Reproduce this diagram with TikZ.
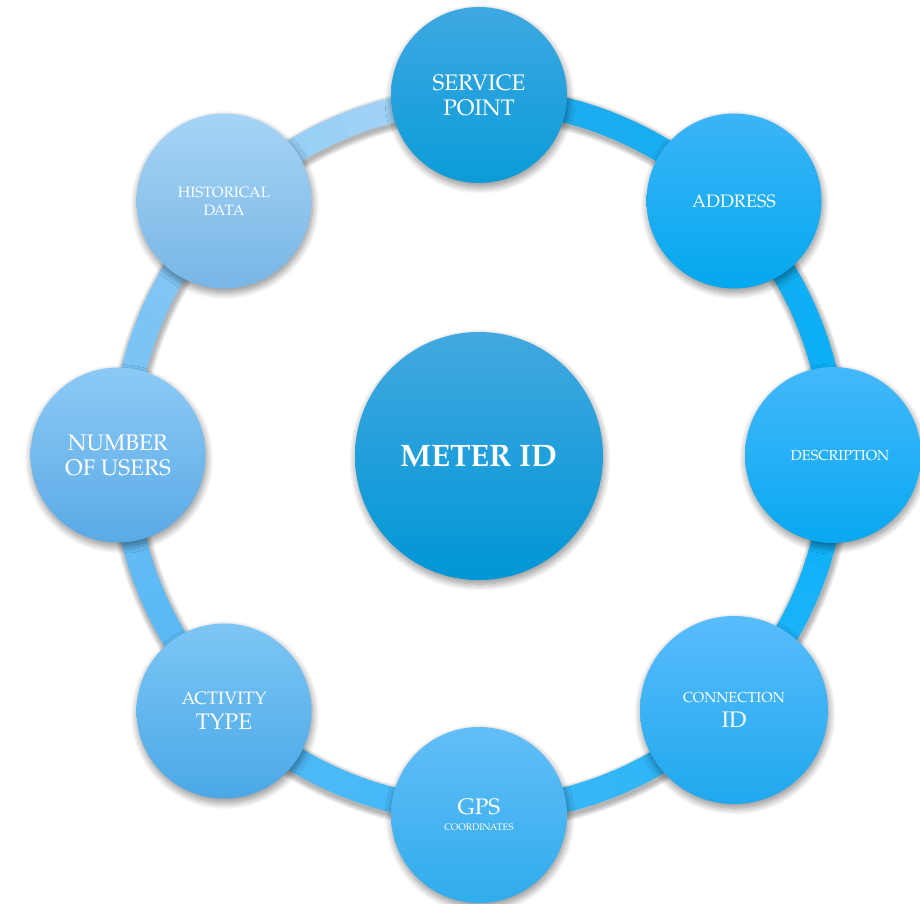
\documentclass[tikz,border=0pt]{standalone}
\usepackage{fontspec}
\setmainfont{TeX Gyre Pagella}
\usetikzlibrary{shadows.blur}
\definecolor{rA}{HTML}{A8D6F6}
\definecolor{rB}{HTML}{7CC4F5}
\definecolor{rC}{HTML}{5CBAF5}
\definecolor{rD}{HTML}{40B8F8}
\definecolor{rE}{HTML}{08B0F8}
\definecolor{rF}{HTML}{20ACEC}
\definecolor{spT}{HTML}{3EA8E2}\definecolor{spB}{HTML}{0A9CD8}
\definecolor{miT}{HTML}{42A8E0}\definecolor{miB}{HTML}{0096D6}
\definecolor{adT}{HTML}{3CB4F8}\definecolor{adB}{HTML}{04A8EE}
\definecolor{deT}{HTML}{44B8FC}\definecolor{deB}{HTML}{08A8F0}
\definecolor{coT}{HTML}{58BCFC}\definecolor{coB}{HTML}{20A8EE}
\definecolor{gpT}{HTML}{62BEF8}\definecolor{gpB}{HTML}{30ACEC}
\definecolor{acT}{HTML}{7CC6F5}\definecolor{acB}{HTML}{4AA8E6}
\definecolor{nuT}{HTML}{8CCAF5}\definecolor{nuB}{HTML}{5AAAE6}
\definecolor{hiT}{HTML}{A6D4F5}\definecolor{hiB}{HTML}{78B6E6}
\newcommand\ringseg[4]{%
  \foreach \i in {0,...,19} {%
    \pgfmathsetmacro\ang{#1+(#2-#1)*\i/20}%
    \pgfmathsetmacro\angb{\ang+(#2-#1)/20+0.4}%
    \pgfmathtruncatemacro\pc{100*\i/19}%
    \draw[ringline, draw={#4!\pc!#3}] (c) ++(\ang:355.5pt)
      arc[start angle=\ang, end angle=\angb, radius=355.5pt];
  }}
\begin{document}
\begin{tikzpicture}[x=1pt,y=-1pt,
  bubble/.style={circle, inner sep=0pt, text=white, align=center,
    blur shadow={shadow xshift=1pt, shadow yshift=-4pt, shadow blur radius=7pt,
      shadow blur steps=12, shadow opacity=45}},
  bigtxt/.style={font=\fontsize{22.5}{25}\selectfont},
  ringline/.style={line width=25pt, line cap=butt},
  ringshadow/.style={draw=black, opacity=0.055}
]
\useasboundingbox (0,0) rectangle (920,903);
\coordinate (c) at (479,455);
\coordinate (cs) at (480,458);
% ring shadow
\foreach \w in {26,28,30,32,34,36}
  \draw[ringshadow, line width=\w pt] (cs) circle (355.5pt);
% ring with gradient along its length
\ringseg{92}{160}{rA}{rB}
\ringseg{160}{205}{rB}{rC}
\ringseg{205}{270}{rC}{rD}
\ringseg{270}{360}{rD}{rE}
\ringseg{360}{452}{rE}{rF}

\node[bubble, minimum size=176pt, top color=spT, bottom color=spB, bigtxt] (sp) at (479,95) {SERVICE\\POINT};
\node[bubble, minimum size=175pt, top color=adT, bottom color=adB, font=\fontsize{18}{22}\selectfont] (ad) at (734,201) {ADDRESS};
\node[bubble, minimum size=176pt, top color=deT, bottom color=deB, font=\fontsize{14.5}{18}\selectfont] (de) at (833,455) {\hspace*{14pt}DESCRIPTION};
\node[bubble, minimum size=188pt, top color=coT, bottom color=coB, font=\fontsize{14.5}{25}\selectfont] (co) at (734,710) {CONNECTION\\\fontsize{22.5}{25}\selectfont ID};
\node[bubble, minimum size=176pt, top color=gpT, bottom color=gpB, font=\fontsize{22.5}{16}\selectfont] (gp) at (479,815) {GPS\\\fontsize{9.5}{16}\selectfont COORDINATES};
\node[bubble, minimum size=175pt, top color=acT, bottom color=acB, font=\fontsize{18}{25}\selectfont] (ac) at (224,711) {ACTIVITY\\\fontsize{22.5}{25}\selectfont TYPE};
\node[bubble, minimum size=175pt, top color=nuT, bottom color=nuB, bigtxt] (nu) at (118,455) {NUMBER\\OF USERS};
\node[bubble, minimum size=175pt, top color=hiT, bottom color=hiB, font=\fontsize{15}{18}\selectfont] (hi) at (224,201) {HISTORICAL\\DATA};
\node[bubble, minimum size=248pt, top color=miT, bottom color=miB, font=\bfseries\fontsize{31}{36}\selectfont] (mi) at (479,456) {METER ID};
\end{tikzpicture}
\end{document}
